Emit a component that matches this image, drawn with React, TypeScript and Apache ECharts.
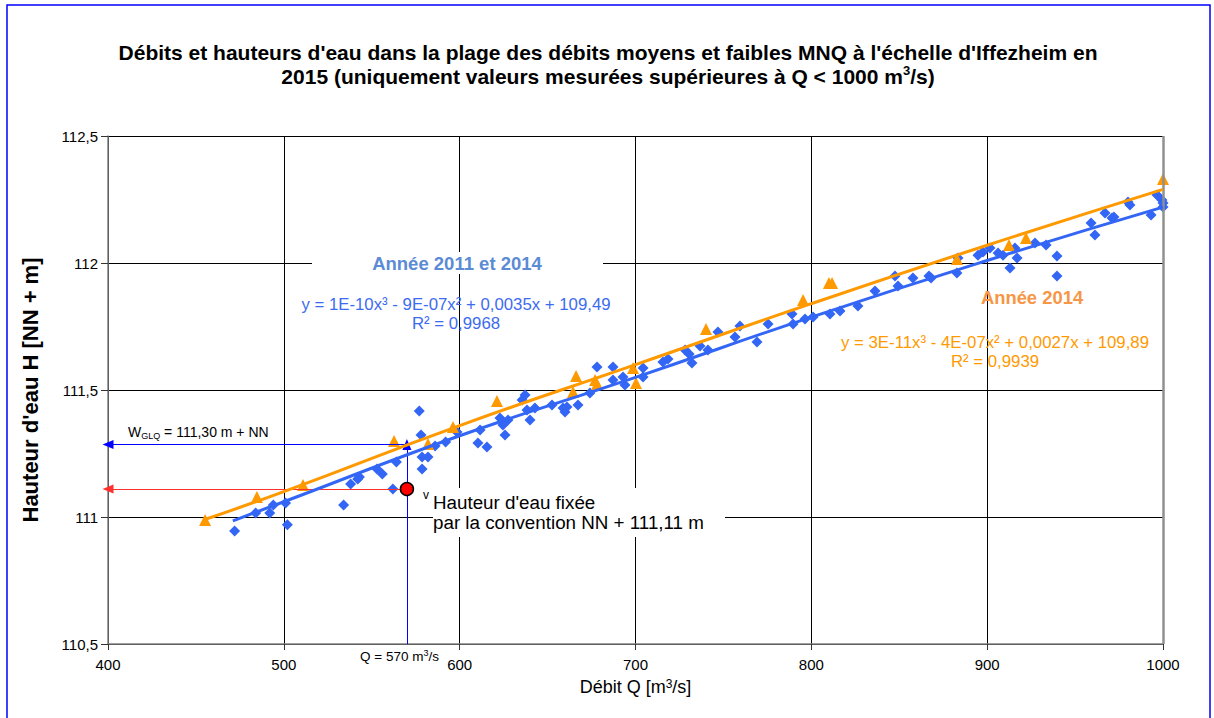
import React, { useEffect, useRef } from "react";
import * as echarts from "echarts";

// Measured values 2011 and 2014 (Débit Q [m³/s], Hauteur H [NN + m])
const points2011and2014: [number, number][] = [
  [472, 110.945], [484, 111.016], [492, 111.016], [494, 111.047], [501, 111.055], [502, 110.969],
  [534, 111.047], [538, 111.13], [542, 111.15], [543, 111.157], [553, 111.189], [556, 111.169],
  [562, 111.11], [564, 111.217], [577, 111.417], [578, 111.323], [578.6, 111.236], [578.6, 111.189],
  [582, 111.236], [586, 111.28], [592, 111.295],
  [598.5, 111.335], [611.6, 111.343], [610.4, 111.291], [615.5, 111.276], [622.9, 111.39],
  [627.5, 111.382], [624.6, 111.362], [625.8, 111.323], [637.2, 111.48], [635.5, 111.461],
  [638.3, 111.421], [642.8, 111.429], [640, 111.382], [652.5, 111.441], [658.8, 111.429],
  [659.9, 111.413], [661, 111.433], [667.3, 111.441], [674.1, 111.488], [687.2, 111.539],
  [692.9, 111.551], [694, 111.52], [704.3, 111.551],
  [678.1, 111.591], [687.2, 111.591], [704.3, 111.587], [715.6, 111.61], [718.5, 111.622],
  [728.2, 111.657], [732.1, 111.606], [730.5, 111.642], [736.7, 111.673], [741.2, 111.657],
  [746.9, 111.728], [756.6, 111.709], [759.4, 111.752], [769.1, 111.689], [775.4, 111.76],
  [789, 111.799], [789.6, 111.76], [796.4, 111.78], [801, 111.787], [810.6, 111.799],
  [816.3, 111.811], [826.5, 111.831], [836.2, 111.89],
  [847.6, 111.949], [849.3, 111.909], [857.8, 111.941], [866.9, 111.949], [868.1, 111.941],
  [882.8, 111.961], [883.4, 112.02], [894.8, 112.031], [897.6, 112.043], [901.6, 112.059],
  [906.2, 112.039], [909, 112.031], [913, 111.98], [915.8, 112.059], [917, 112.02],
  [927.2, 112.079], [933.5, 112.071], [939.7, 112.028], [939.7, 111.949], [959.1, 112.157],
  [961.3, 112.11], [967, 112.197], [971, 112.177], [972.1, 112.181], [980.1, 112.24],
  [981.2, 112.228], [993.2, 112.189], [996.6, 112.268], [999.4, 112.248], [1000, 112.22],
  [1000, 112.236],
];

// Measured values 2014
const points2014: [number, number][] = [
  [455.2, 110.988], [484.7, 111.079], [510.9, 111.126], [562.7, 111.299], [582, 111.287],
  [596.2, 111.354], [621.2, 111.457], [664.5, 111.492], [666.2, 111.555], [677, 111.539],
  [678.1, 111.524], [698.6, 111.587], [700.3, 111.528], [740.1, 111.74], [795.3, 111.854],
  [810, 111.921], [811.8, 111.921], [882.8, 112.016], [912.4, 112.071], [922.1, 112.098],
  [1000, 112.331],
];

// Trend lines
const trend2011and2014: [number, number][] = [
  [471, 110.985], [500, 111.06], [600, 111.32], [700, 111.55], [800, 111.787], [900, 112.01], [1000, 112.22],
];
const trend2014: [number, number][] = [
  [455, 110.99], [500, 111.1], [600, 111.36], [700, 111.6], [800, 111.84], [900, 112.07], [1000, 112.29],
];

// Reference values
const refQ = 570;
const wGLQ = 111.285;
const fixedH = 111.11;

const xTicks = { min: 400, max: 1000, interval: 100 };
const yTicks = { min: 110.5, max: 112.5, interval: 0.5 };

const FONT = "Arial, 'Liberation Sans', sans-serif";
const BLUE = "#3366F5";
const ORANGE = "#FF9900";

export default function App() {
  const ref = useRef<HTMLDivElement>(null);
  useEffect(() => {
    if (!ref.current) return;
    const chart = echarts.init(ref.current, undefined, { renderer: "svg" });
    chart.setOption({
      animation: false,
      backgroundColor: "#ffffff",
      textStyle: { fontFamily: FONT },
      grid: { left: 108, top: 136, width: 1055, height: 508, containLabel: false },
      xAxis: {
        type: "value",
        min: xTicks.min,
        max: xTicks.max,
        interval: xTicks.interval,
        name: "Débit Q [m{sup|3}/s]",
        nameLocation: "middle",
        nameGap: 34,
        nameTextStyle: {
          fontFamily: FONT,
          fontSize: 18,
          color: "#000",
          rich: { sup: { fontFamily: FONT, fontSize: 12, color: "#000", verticalAlign: "top", lineHeight: 16 } },
        },
        axisLine: { show: true, onZero: false, lineStyle: { color: "#808080", width: 1.5 } },
        axisTick: { show: true, inside: false, length: 6, lineStyle: { color: "#333", width: 1 } },
        axisLabel: { fontFamily: FONT, fontSize: 15, color: "#000", margin: 13, formatter: (v: number) => String(v) },
        splitLine: { show: true, lineStyle: { color: "#000", width: 1 } },
      },
      yAxis: {
        type: "value",
        min: yTicks.min,
        max: yTicks.max,
        interval: yTicks.interval,
        name: "Hauteur d'eau H [NN + m]",
        nameLocation: "middle",
        nameGap: 67,
        nameTextStyle: { fontFamily: FONT, fontSize: 22, fontWeight: "bold", color: "#000" },
        axisLine: { show: true, onZero: false, lineStyle: { color: "#808080", width: 1.5 } },
        axisTick: { show: true, inside: false, length: 7, lineStyle: { color: "#333", width: 1 } },
        axisLabel: {
          fontFamily: FONT,
          fontSize: 15,
          color: "#000",
          margin: 10,
          formatter: (v: number) => String(v).replace(".", ","),
        },
        splitLine: { show: true, lineStyle: { color: "#000", width: 1 } },
      },
      series: [
        {
          name: "Année 2011 et 2014",
          type: "scatter",
          data: points2011and2014,
          symbol: "diamond",
          symbolSize: 11,
          itemStyle: { color: BLUE, opacity: 1 },
          z: 3,
        },
        {
          name: "Année 2014",
          type: "scatter",
          data: points2014,
          symbol: "triangle",
          symbolSize: 12,
          itemStyle: { color: ORANGE, opacity: 1 },
          z: 4,
        },
        {
          name: "Tendance 2011 et 2014",
          type: "line",
          data: trend2011and2014,
          smooth: true,
          showSymbol: false,
          symbol: "none",
          lineStyle: { color: BLUE, width: 3 },
          z: 5,
        },
        {
          name: "Tendance 2014",
          type: "line",
          data: trend2014,
          smooth: true,
          showSymbol: false,
          symbol: "none",
          lineStyle: { color: ORANGE, width: 3 },
          z: 5,
        },
        {
          name: "Hauteur d'eau fixée",
          type: "scatter",
          data: [[refQ, fixedH]],
          symbol: "circle",
          symbolSize: 13,
          itemStyle: { color: "#FF0000", borderColor: "#000", borderWidth: 1.5, opacity: 1 },
          z: 7,
          markLine: {
            silent: true,
            animation: false,
            symbolSize: [9, 11],
            label: { show: false },
            data: [
              [
                { coord: [refQ, wGLQ], symbol: "none", lineStyle: { color: "#0000FF", width: 1, type: "solid" } },
                { coord: [xTicks.min, wGLQ], symbol: "triangle", symbolRotate: 90, itemStyle: { color: "#0000FF" } },
              ],
              [
                { coord: [refQ, yTicks.min], symbol: "none", lineStyle: { color: "#0000FF", width: 1, type: "solid" } },
                { coord: [refQ, wGLQ], symbol: "triangle", symbolRotate: 0, itemStyle: { color: "#0000FF" } },
              ],
              [
                { coord: [refQ, fixedH], symbol: "none", lineStyle: { color: "#FF3030", width: 1, type: "solid" } },
                { coord: [xTicks.min, fixedH], symbol: "triangle", symbolRotate: 90, itemStyle: { color: "#FF0000" } },
              ],
              [
                { coord: [xTicks.max, yTicks.min], symbol: "none", lineStyle: { color: "#909090", width: 2.5, type: "solid" } },
                { coord: [xTicks.max, yTicks.max], symbol: "none" },
              ],
            ],
          },
        },
      ],
      graphic: [
        {
          type: "rect",
          z: 100,
          shape: { x: 7, y: 5, width: 1203, height: 730 },
          style: { fill: "none", stroke: "#0000FF", lineWidth: 1.5 },
          silent: true,
        },
        {
          type: "text",
          z: 10,
          x: 608,
          y: 40,
          style: {
            text:
              "Débits et hauteurs d'eau dans la plage des débits moyens et faibles MNQ à l'échelle d'Iffezheim en\n2015 (uniquement valeurs mesurées supérieures à Q < 1000 m{sup|3}/s)",
            fontFamily: FONT,
            fontSize: 21,
            fontWeight: "bold",
            lineHeight: 24,
            fill: "#000",
            align: "center",
            verticalAlign: "top",
            rich: {
              sup: { fontFamily: FONT, fontSize: 13, fontWeight: "bold", fill: "#000", verticalAlign: "top", lineHeight: 19 },
            },
          },
        },
        {
          type: "rect",
          z: 1,
          shape: { x: 312, y: 252, width: 291, height: 22 },
          style: { fill: "#ffffff" },
          silent: true,
        },
        {
          type: "text",
          z: 10,
          x: 457,
          y: 263,
          style: { text: "Année 2011 et 2014", fontFamily: FONT, fontSize: 18.5, fontWeight: "bold", fill: "#5B8BD4", align: "center", verticalAlign: "middle" },
        },
        {
          type: "text",
          z: 10,
          x: 456,
          y: 304,
          style: { text: "y = 1E-10x³ - 9E-07x² + 0,0035x + 109,49", fontFamily: FONT, fontSize: 16.8, fill: "#3D6BF0", align: "center", verticalAlign: "middle" },
        },
        {
          type: "text",
          z: 10,
          x: 456,
          y: 323,
          style: { text: "R² = 0,9968", fontFamily: FONT, fontSize: 16.8, fill: "#3D6BF0", align: "center", verticalAlign: "middle" },
        },
        {
          type: "text",
          z: 10,
          x: 1032,
          y: 297,
          style: { text: "Année 2014", fontFamily: FONT, fontSize: 18.4, fontWeight: "bold", fill: "#F79646", align: "center", verticalAlign: "middle" },
        },
        {
          type: "text",
          z: 10,
          x: 995,
          y: 342,
          style: { text: "y = 3E-11x³ - 4E-07x² + 0,0027x + 109,89", fontFamily: FONT, fontSize: 16.8, fill: ORANGE, align: "center", verticalAlign: "middle" },
        },
        {
          type: "text",
          z: 10,
          x: 995,
          y: 361,
          style: { text: "R² = 0,9939", fontFamily: FONT, fontSize: 16.8, fill: ORANGE, align: "center", verticalAlign: "middle" },
        },
        {
          type: "text",
          z: 10,
          x: 128,
          y: 432,
          style: {
            text: "W{sub|GLQ} = 111,30 m + NN",
            fontFamily: FONT,
            fontSize: 14,
            fill: "#000",
            align: "left",
            verticalAlign: "middle",
            rich: { sub: { fontFamily: FONT, fontSize: 9, fill: "#000", verticalAlign: "bottom", lineHeight: 16 } },
          },
        },
        {
          type: "text",
          z: 10,
          x: 360,
          y: 656,
          style: {
            text: "Q = 570 m{sup|3}/s",
            fontFamily: FONT,
            fontSize: 13.5,
            fill: "#000",
            align: "left",
            verticalAlign: "middle",
            rich: { sup: { fontFamily: FONT, fontSize: 9, fill: "#000", verticalAlign: "top", lineHeight: 15 } },
          },
        },
        {
          type: "rect",
          z: 1,
          shape: { x: 433, y: 488, width: 292, height: 49 },
          style: { fill: "#ffffff" },
          silent: true,
        },
        {
          type: "text",
          z: 10,
          x: 423,
          y: 495,
          style: { text: "v", fontFamily: FONT, fontSize: 12, fill: "#000", align: "left", verticalAlign: "middle" },
        },
        {
          type: "text",
          z: 10,
          x: 433,
          y: 492,
          style: {
            text: "Hauteur d'eau fixée\npar la convention NN + 111,11 m",
            fontFamily: FONT,
            fontSize: 18.8,
            lineHeight: 20,
            fill: "#000",
            align: "left",
            verticalAlign: "top",
          },
        },
      ],
    });
    return () => chart.dispose();
  }, []);
  return (
    <div
      ref={ref}
      style={{ position: "absolute", left: 0, top: 0, width: 1214, height: 718, background: "#fff" }}
    />
  );
}
